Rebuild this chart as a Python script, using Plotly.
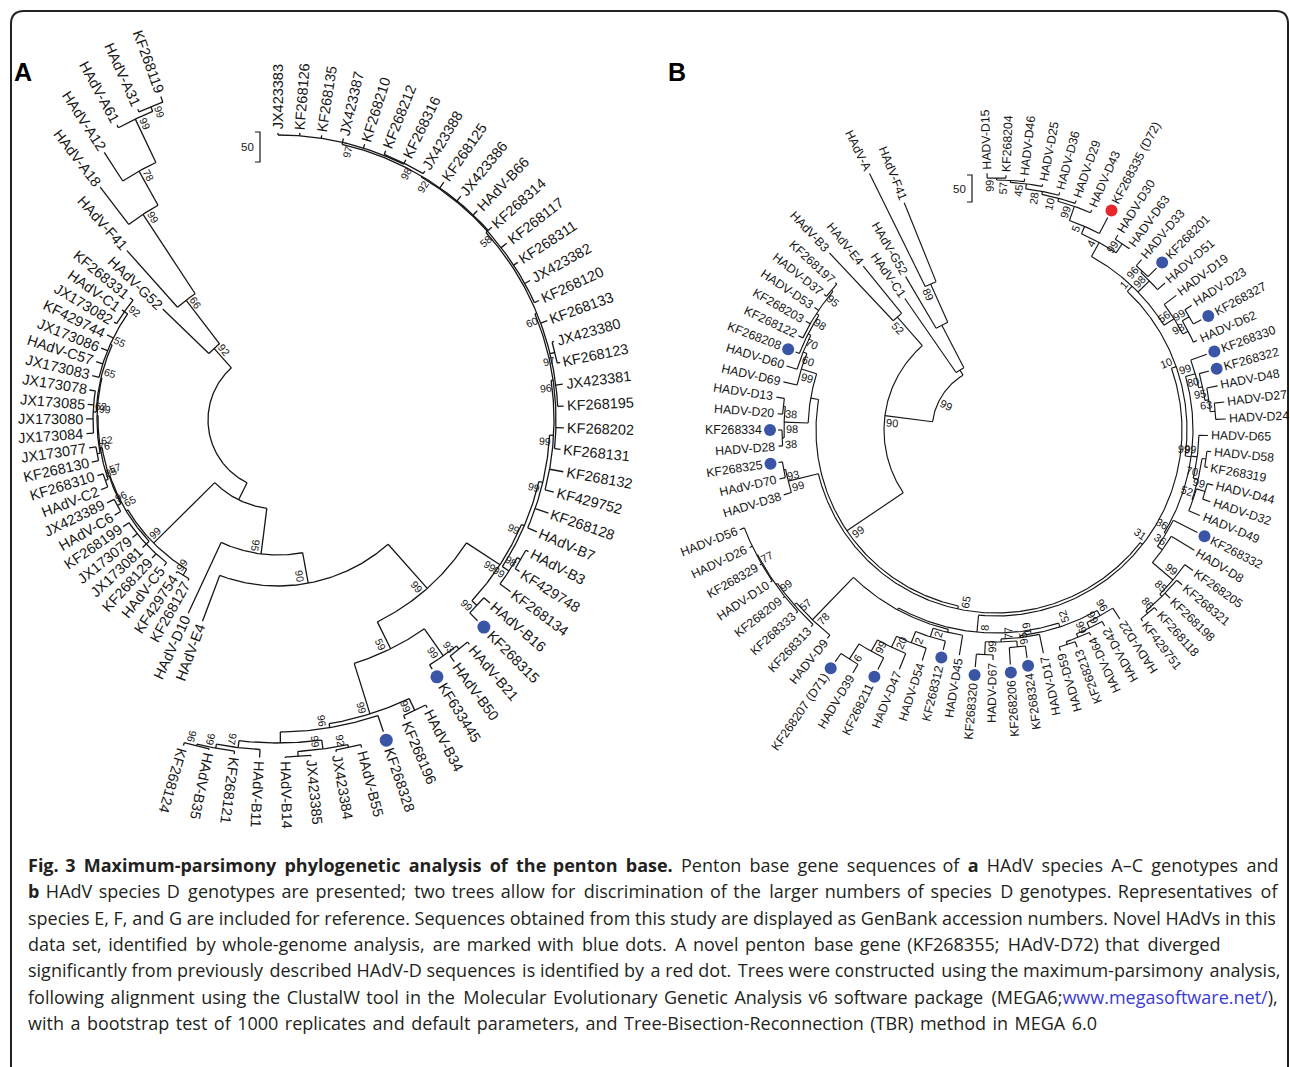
import math
import re
import plotly.graph_objects as go


def N(depth, support, *children):
    """Internal tree node: depth from the root (tree units), bootstrap support, children."""
    return {"depth": depth, "support": support, "children": list(children)}


# ============================ DATA : tree A ============================
A_TIPS = ["JX423383", "KF268126", "KF268135", "JX423387", "KF268210", "KF268212", "KF268316", "JX423388",
          "KF268125", "JX423386", "HAdV-B66", "KF268314", "KF268117", "KF268311", "JX423382", "KF268120",
          "KF268133", "JX423380", "KF268123", "JX423381", "KF268195", "KF268202", "KF268131", "KF268132",
          "KF429752", "KF268128", "HAdV-B7", "HAdV-B3", "KF429748", "KF268134", "HAdV-B16", "KF268315",
          "HAdV-B21", "HAdV-B50", "KF633445", "HAdV-B34", "KF268196", "KF268328", "HAdV-B55", "JX423384",
          "JX423385", "HAdV-B14", "HAdV-B11", "KF268121", "HAdV-B35", "KF268124", "HAdV-E4", "HAdV-D10",
          "KF268127", "KF429754", "HAdV-C5", "KF268129", "JX173081", "JX173079", "KF268199", "HAdV-C6",
          "JX423389", "HAdV-C2", "KF268310", "KF268130", "JX173077", "JX173084", "JX173080", "JX173085",
          "JX173078", "JX173083", "HAdV-C57", "JX173086", "KF429744", "JX173082", "HAdV-C1", "KF268331",
          "HAdV-G52", "HAdV-F41", "HAdV-A18", "HAdV-A12", "HAdV-A61", "HAdV-A31", "KF268119"]
A_TIP_DEPTH = [217, 218, 218, 219, 219, 220, 220, 219, 220, 219,
               219, 218, 219, 217, 218, 217, 217, 217, 218, 217,
               216, 216, 214, 220, 215, 216, 212, 213, 215, 219,
               210, 213, 225, 229, 223, 254, 255, 259, 268, 267,
               268, 268, 268, 267, 267, 269, 145, 143, 114, 114,
               115, 117, 116, 117, 118, 119, 120, 120, 119, 121,
               121, 122, 122, 121, 121, 121, 121, 121, 121, 121,
               121, 122, 90, 157, 223, 249, 266, 271, 274]
A_MARKED = {"KF268315": "blue", "KF633445": "blue", "KF268328": "blue"}

A_TREE = N(0, None,
  N(19, None,
    N(65, 95,
      N(96, 90,
        N(155, 99,
          N(195, 99,
            N(198, 99,
              N(202, 99,
                N(206, 99,
                  N(208, 96,
                    N(210, 60,
                      N(212, 58,
                        N(213, 92,
                          N(215, 97, 0, 1, 2, 3, 4, N(216, 98, 5, 6, 7)),
                          8, 9, 10, 11),
                        12, 13, 14, 15),
                      16, N(215, 97, 17, 18), 19, 20),
                    21, 22),
                  23, 24),
                25, 26),
              N(206, 99, N(210, 98, 27, 28), 29)),
            N(202, 99, 30, 31)),
          N(185, 59,
            N(218, 99, N(222, 93, 32, 33), 34),
            N(238, 99,
              N(251, 99, 35, 36),
              N(242, 96, 37,
                N(253, None,
                  N(262, 99, N(265, 92, 38, 39), N(267, None, 40, 41)),
                  N(260, 97, 42, N(264, 99, 43, N(266, 96, 44, 45)))))))),
        46),
      47),
    N(105, 99,
      N(112, 99, 48, 49),
      N(107, 65,
        N(111, None, 50, 51, 52, 53, 54),
        N(108, 57,
          N(112, 96, 55, 56),
          N(110, 62,
            N(113, 85, 57, 58),
            N(111, 99,
              N(114, 76, 59, 60),
              N(112, 65,
                N(115, 62, 61, 62, 63, 64),
                N(114, 55, 65, 66, 67, 68, N(118, 92, 69, 70, 71))))))))),
  N(26, 92, 72, N(81, 66, 73, N(176, 99, 74, N(215, 78, 75, N(263, 99, 76, N(268, 99, 77, 78)))))))

# ============================ DATA : tree B ============================
B_TIPS = ["HADV-D15", "KF268204", "HADV-D46", "HADV-D25", "HADV-D36", "HADV-D29", "HADV-D43", "KF268335 (D72)",
          "HADV-D30", "HADV-D63", "HADV-D33", "KF268201", "HADV-D51", "HADV-D19", "HADV-D23", "KF268327",
          "HADV-D62", "KF268330", "KF268322", "HADV-D48", "HADV-D27", "HADV-D24", "HADV-D65", "HADV-D58",
          "KF268319", "HADV-D44", "HADV-D32", "HADV-D49", "KF268332", "HADV-D8", "KF268205", "KF268321",
          "KF268198", "KF268118", "KF429751", "HADV-D22", "HADV-D42", "HADV-D64", "KF268213", "HADV-D59",
          "HADV-D17", "KF268324", "KF268206", "HADV-D67", "KF268320", "HADV-D45", "KF268312", "HADV-D54",
          "HADV-D47", "KF268211", "HADV-D39", "KF268207 (D71)", "HADV-D9", "KF268313", "KF268333", "KF268209",
          "HADV-D10", "KF268329", "HADV-D26", "HADV-D56", "HADV-D38", "HAdV-D70", "KF268325", "HADV-D28",
          "KF268334", "HADV-D20", "HADV-D13", "HADV-D69", "HADV-D60", "KF268208", "KF268122", "KF268203",
          "HADV-D53", "HADV-D37", "KF268197", "HAdV-B3", "HAdV-E4", "HAdV-C1", "HAdV-G52", "HAdV-A",
          "HAdV-F41"]
B_TIP_DEPTH = [193, 191, 189, 186, 182, 179, 176, 176, 166, 162,
               160, 164, 160, 161, 168, 169, 156, 160, 157, 162,
               166, 166, 148, 152, 151, 160, 162, 157, 162, 168,
               178, 178, 178, 178, 177, 162, 160, 162, 168, 166,
               164, 166, 171, 166, 174, 164, 162, 178, 194, 203,
               218, 218, 204, 206, 207, 207, 208, 208, 209, 211,
               158, 158, 156, 154, 154, 155, 158, 154, 155, 151,
               155, 155, 155, 155, 154, 179, 147, 96, 114, 222,
               181]
B_MARKED = {"KF268335 (D72)": "red", "KF268201": "blue", "KF268327": "blue", "KF268330": "blue",
            "KF268322": "blue", "KF268332": "blue", "KF268324": "blue", "KF268206": "blue",
            "KF268320": "blue", "KF268312": "blue", "KF268211": "blue", "KF268207 (D71)": "blue",
            "KF268325": "blue", "KF268334": "blue", "KF268208": "blue"}

B_TREE = N(0, 99,
  N(48, 90,
    N(116, 99,
      N(119, 65,
        N(122, 31,
          N(127, 10,
            N(134, 1,
              N(150, 4,
                N(158, 5,
                  N(173, 99,
                    N(176, 10,
                      N(179, 28,
                        N(184, 45,
                          N(186, 57,
                            N(188, 99, 0, 1), 2), 3), 4), 5), 6), 7),
                N(161, 99, 8, 9)),
              N(150, 98, N(152, 96, 10, 11), 12),
              N(146, 56, 13, N(152, 98, N(160, 99, 14, 15), 16))),
            N(133, 99,
              N(143, 99, 17, N(147, 80, 18, N(151, 95, 19, N(156, 63, 20, 21)))),
              N(139, 99, 22, N(144, 70, N(148, None, 23, 24), N(145, 52, N(154, 99, 25, 26), 27))),
              N(135, 36, 28, N(141, 36, 29, N(168, 99, 30, N(171, 85, 31, 32, N(174, 86, 33, 34))))))),
          N(139, 8,
            N(143, 52,
              N(149, 96, 35, N(155, 66, 36, N(159, 66, 37, N(162, None, 38, 39)))),
              N(145, 19, 40, N(148, 77, N(154, 95, 41, 42), N(161, 99, 43, 44)))),
            N(141, None,
              N(144, None, 45, N(153, 2, 46, N(165, 2, 47, N(177, 20, 48, N(190, 99, 49, N(208, 6, 50, 51)))))),
              N(200, 78, 52, N(203, 57, 53, N(205, 99, 54, 55, N(206, 77, 56, 57, 58, 59))))))),
        N(150, 99, 60, N(152, 93, 61, 62))),
      N(124, None,
        N(148, 98, N(150, 38, 63, 64), N(150, 38, 65, 66)),
        N(140, 99, 67, N(144, 60, 68, N(147, 70, 69, N(150, 98, 70, 71, 72, N(152, 95, 73, 74))))))),
    N(86, 52, 75, 76)),
  N(6, None, 77, N(54, None, 78, N(96, 89, 79, 80))))

SCALE_BAR_STEPS = 50
A_UNITS_PER_STEP = 0.6
B_UNITS_PER_STEP = 0.54

CAPTION_LINES = [
    "<b>Fig. 3 Maximum-parsimony phylogenetic analysis of the penton base.</b> Penton base gene sequences of <b>a</b> HAdV species A–C genotypes and",
    "<b>b</b> HAdV species D genotypes are presented; two trees allow for discrimination of the larger numbers of species D genotypes. Representatives of",
    "species E, F, and G are included for reference. Sequences obtained from this study are displayed as GenBank accession numbers. Novel HAdVs in this",
    "data set, identified by whole-genome analysis, are marked with blue dots. A novel penton base gene (KF268355; HAdV-D72) that diverged",
    "significantly from previously described HAdV-D sequences is identified by a red dot. Trees were constructed using the maximum-parsimony analysis,",
    "following alignment using the ClustalW tool in the Molecular Evolutionary Genetic Analysis v6 software package (MEGA6;<span style='color:#3b3bd6'>www.megasoftware.net/</span>),",
    "with a bootstrap test of 1000 replicates and default parameters, and Tree-Bisection-Reconnection (TBR) method in MEGA 6.0",
]
# total number of extra hair spaces per caption line (spread over its word gaps) to imitate justification
CAPTION_EXTRA_SPACING = [35, 27, 0, 26, 6, 17, 16]

# ============================ LAYOUT / STYLE ============================
W, H = 1290, 1067
INK = "#161616"
FONT_TREE = "Liberation Sans, Arial, sans-serif"
FONT_CAP = "Open Sans, sans-serif"
DOT_COLORS = {"blue": "#3a54a6", "red": "#e5262c"}

CFG_A = dict(center=(278, 420), r0=70, start=90.0, step=4.36, flip=(95, 252),
             tip_size=14.5, bs_size=10.5, gap=3, dot_size=13, dot_off=9, bs_side=-1, lw=1.3)
CFG_B = dict(center=(996, 430), r0=64, start=92.0, step=4.25, flip=(95, 305),
             tip_size=12.3, bs_size=11, gap=3, dot_size=12, dot_off=8, bs_side=1, lw=1.15)

CHAR_W = {"0": .556, "1": .556, "2": .556, "3": .556, "4": .556, "5": .556, "6": .556, "7": .556,
          "8": .556, "9": .556, "A": .667, "B": .667, "C": .722, "D": .722, "E": .667, "F": .611,
          "G": .778, "H": .722, "J": .5, "K": .667, "V": .667, "X": .667, "d": .556, "-": .333,
          " ": .278, "(": .333, ")": .333}


def text_width(s, size):
    return sum(CHAR_W.get(c, 0.6) for c in s) * size


def polar(center, r, ang):
    a = math.radians(ang)
    return center[0] + r * math.cos(a), center[1] - r * math.sin(a)


def layout_tree(tree, depths, start, step):
    recs = []

    def walk(node, pdepth):
        if isinstance(node, int):
            rec = {"angle": start - step * node, "depth": depths[node], "pdepth": pdepth, "tip": node}
        else:
            kids = [walk(c, node["depth"]) for c in node["children"]]
            rec = {"angle": (kids[0]["angle"] + kids[-1]["angle"]) / 2.0, "depth": node["depth"],
                   "pdepth": pdepth, "tip": None, "kids": kids, "support": node["support"]}
        recs.append(rec)
        return rec

    walk(tree, None)
    return recs


def radial_ann(center, ang, rc, text, size, flip):
    x, y = polar(center, rc, ang)
    d = ang % 360.0
    direction = d - 180.0 if flip[0] < d < flip[1] else d
    ta = -direction
    while ta <= -180:
        ta += 360
    while ta > 180:
        ta -= 360
    return dict(x=x, y=y, xref="x", yref="y", text=text, textangle=ta, showarrow=False,
                xanchor="center", yanchor="middle", borderpad=0,
                font=dict(family=FONT_TREE, size=size, color=INK))


def build_tree(tree, names, depths, marks, cfg):
    recs = layout_tree(tree, depths, cfg["start"], cfg["step"])
    c, r0 = cfg["center"], cfg["r0"]
    xs, ys, anns = [], [], []
    dots = {k: ([], []) for k in DOT_COLORS}
    for rec in recs:
        r = r0 + rec["depth"]
        if rec["pdepth"] is not None:
            rp = r0 + rec["pdepth"]
            x1, y1 = polar(c, rp, rec["angle"])
            x2, y2 = polar(c, r, rec["angle"])
            xs += [x1, x2, None]
            ys += [y1, y2, None]
        if rec["tip"] is None:
            a1, a2 = rec["kids"][0]["angle"], rec["kids"][-1]["angle"]
            n = max(2, int(abs(a1 - a2) / 0.5) + 2)
            for k in range(n):
                x, y = polar(c, r, a1 + (a2 - a1) * k / (n - 1))
                xs.append(x)
                ys.append(y)
            xs.append(None)
            ys.append(None)
            if rec["support"] is not None:
                lab = str(rec["support"])
                w = text_width(lab, cfg["bs_size"])
                rc = max(r - 2 - w / 2, w / 2 + 4)
                dang = math.degrees((cfg["bs_size"] * 0.62) / rc) * cfg["bs_side"]
                anns.append(radial_ann(c, rec["angle"] + dang, rc, lab, cfg["bs_size"], cfg["flip"]))
        else:
            name = names[rec["tip"]]
            start_r = r + cfg["gap"]
            if name in marks:
                dx, dy = polar(c, r + cfg["dot_off"], rec["angle"])
                dots[marks[name]][0].append(dx)
                dots[marks[name]][1].append(dy)
                start_r = r + cfg["dot_off"] + cfg["dot_size"] / 2 + 2
            w = text_width(name, cfg["tip_size"])
            anns.append(radial_ann(c, rec["angle"], start_r + w / 2, name, cfg["tip_size"], cfg["flip"]))
    return xs, ys, anns, dots


def widen_spaces(line, total):
    """Spread `total` hair spaces evenly over the word gaps (outside html tags)."""
    parts = re.split(r"(<[^>]+>)", line)
    gaps = sum(p.count(" ") for p in parts if not p.startswith("<"))
    if total <= 0 or gaps == 0:
        return line
    out, g = [], 0
    for p in parts:
        if p.startswith("<"):
            out.append(p)
            continue
        buf = []
        for ch in p:
            if ch == " ":
                extra = (g + 1) * total // gaps - g * total // gaps
                buf.append(" " + "\u200a" * extra)
                g += 1
            else:
                buf.append(ch)
        out.append("".join(buf))
    return "".join(out)


fig = go.Figure()
annotations = []

for tree, names, depths, marks, cfg in [(A_TREE, A_TIPS, A_TIP_DEPTH, A_MARKED, CFG_A),
                                        (B_TREE, B_TIPS, B_TIP_DEPTH, B_MARKED, CFG_B)]:
    xs, ys, anns, dots = build_tree(tree, names, depths, marks, cfg)
    fig.add_trace(go.Scatter(x=xs, y=ys, mode="lines", line=dict(color=INK, width=cfg["lw"]),
                             hoverinfo="skip", showlegend=False))
    for col, (dx, dy) in dots.items():
        if dx:
            fig.add_trace(go.Scatter(x=dx, y=dy, mode="markers", hoverinfo="skip", showlegend=False,
                                     marker=dict(size=cfg["dot_size"], color=DOT_COLORS[col], line=dict(width=0))))
    annotations += anns

# scale bars ("50" steps)
for (bx, by), units in [((260, 132), A_UNITS_PER_STEP), ((972, 175), B_UNITS_PER_STEP)]:
    L = SCALE_BAR_STEPS * units
    fig.add_trace(go.Scatter(x=[bx - 5, bx, bx, bx - 5], y=[by, by, by + L, by + L], mode="lines",
                             line=dict(color=INK, width=1.2), hoverinfo="skip", showlegend=False))
    annotations.append(dict(x=bx - 4, y=by + L / 2, xref="x", yref="y", text=str(SCALE_BAR_STEPS),
                            showarrow=False, xanchor="right", yanchor="middle",
                            font=dict(family=FONT_TREE, size=11.5, color=INK)))

# panel letters
for txt, px in [("A", 23), ("B", 677)]:
    annotations.append(dict(x=px, y=72, xref="x", yref="y", text="<b>%s</b>" % txt, showarrow=False,
                            xanchor="center", yanchor="middle", font=dict(family=FONT_TREE, size=25, color="#000")))

# caption
for k, line in enumerate(CAPTION_LINES):
    annotations.append(dict(x=26, y=865 + 26.3 * k, xref="x", yref="y",
                            text=widen_spaces(line, CAPTION_EXTRA_SPACING[k]), showarrow=False,
                            xanchor="left", yanchor="middle",
                            font=dict(family=FONT_CAP, size=18, color="#231f20")))

fig.update_layout(
    width=W, height=H, margin=dict(l=0, r=0, t=0, b=0),
    paper_bgcolor="white", plot_bgcolor="white",
    xaxis=dict(range=[0, W], visible=False, fixedrange=True),
    yaxis=dict(range=[H, 0], visible=False, fixedrange=True),
    annotations=annotations,
    shapes=[dict(type="path", xref="x", yref="y",
                 path="M 11 1067 L 11 24 Q 11 11 24 11 L 1276 11 Q 1288 11 1288 24 L 1288 1067",
                 line=dict(color="#222", width=2))],
)

fig.write_html("out.html", config={"displayModeBar": False},
               post_script="document.body.style.margin='0';document.body.style.overflow='hidden';")
